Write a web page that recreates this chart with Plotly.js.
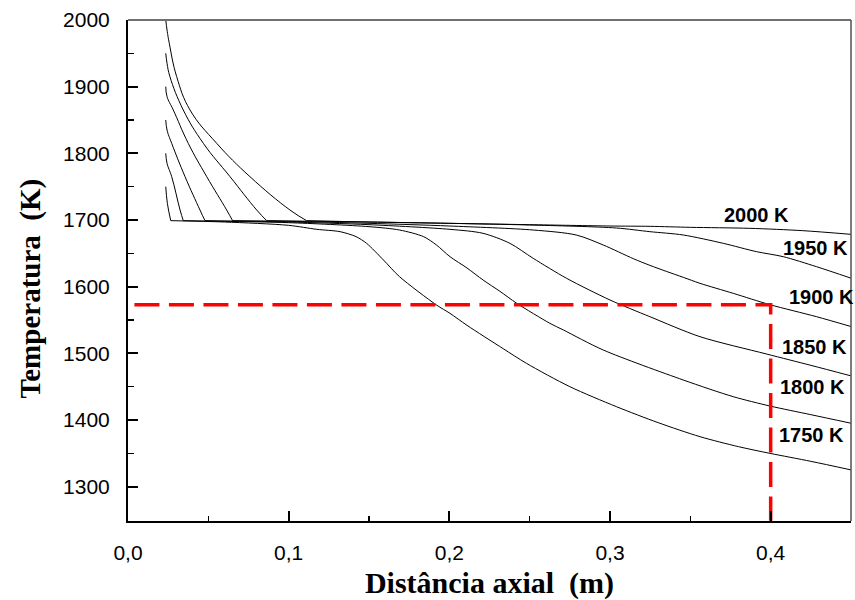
<!DOCTYPE html>
<html>
<head>
<meta charset="utf-8">
<script src="https://cdn.plot.ly/plotly-3.0.1.min.js"></script>
<style>html,body{margin:0;padding:0;background:#fff;}</style>
</head>
<body>
<div id="chart" style="width:855px;height:600px;"></div>
<script>
// Temperature profiles (K) along the axial distance (m), one per inlet temperature
const x2000 = [0.0235,0.0243,0.0257,0.0303,0.0386,0.0552,0.0759,0.1008,0.1112,0.15,0.2,0.25,0.3,0.325,0.35,0.387,0.42,0.45];
const y2000 = [2000,1985,1965,1915,1865,1815,1765,1715,1699,1697,1695,1693,1691,1690.5,1689,1687.5,1684,1678.5];

const x1950 = [0.0235,0.0243,0.0261,0.0344,0.0469,0.0635,0.0801,0.0863,0.15,0.2,0.25,0.304,0.3248,0.3456,0.3705,0.3912,0.4078,0.4285,0.4503];
const y1950 = [1950,1935,1915,1865,1815,1765,1715,1699,1697,1695,1692.5,1688,1682.5,1677.5,1665,1652.5,1645,1630,1612.5];

const x1900 = [0.0235,0.0243,0.0282,0.0375,0.049,0.0614,0.0651,0.1,0.15,0.2,0.2522,0.279,0.2958,0.3145,0.3248,0.335,0.3456,0.356,0.3767,0.3995,0.4285,0.4503];
const y1900 = [1900,1885,1865,1815,1765,1715,1699,1698,1695,1691,1685,1677.5,1662.5,1642,1632,1623,1614,1605,1590,1573,1555,1540];

const x1850 = [0.0235,0.0243,0.0272,0.0355,0.0448,0.0479,0.1,0.15,0.2004,0.221,0.2377,0.2522,0.273,0.3,0.3248,0.356,0.3974,0.425,0.4503];
const y1850 = [1850,1835,1815,1765,1715,1699,1697,1693,1686,1680,1665,1642.5,1612.5,1580,1555,1525,1499,1482,1466];

const x1800 = [0.0235,0.0243,0.0272,0.0324,0.0344,0.06,0.1,0.15,0.169,0.184,0.192,0.2004,0.211,0.221,0.2315,0.242,0.2626,0.271,0.2958,0.3456,0.3767,0.3995,0.425,0.4503];
const y1800 = [1800,1785,1765,1715,1699,1698,1696,1690,1685,1675,1662.5,1645,1628,1610,1593,1575,1545,1535,1505,1460,1435,1421,1408,1395];

const x1750 = [0.0235,0.0245,0.0266,0.06,0.1,0.1175,0.132,0.142,0.1485,0.159,0.169,0.192,0.2004,0.211,0.2335,0.248,0.275,0.304,0.33,0.356,0.38,0.3995,0.425,0.4503];
const y1750 = [1750,1725,1699,1697,1692,1686,1682.5,1675,1665,1640,1615,1572.5,1560,1542,1507,1485,1450,1420,1396,1375,1360,1350,1338,1325];

// Red reference line
const refX = [0.004, 0.4, 0.4];
const refY = [1573, 1573, 1249];

// Curve labels
const labelText = ["2000 K","1950 K","1900 K","1850 K","1800 K","1750 K"];
const labelX = [0.3909, 0.4282, 0.4319, 0.4270, 0.4263, 0.4257];
const labelY = [1707.5, 1658, 1584.5, 1509.5, 1449.5, 1377.5];

// Tick labels
const xTickVals = [0, 0.1, 0.2, 0.3, 0.4];
const xTickText = ["0,0", "0,1", "0,2", "0,3", "0,4"];
const yTickVals = [1300, 1400, 1500, 1600, 1700, 1800, 1900, 2000];
const yTickText = ["1300", "1400", "1500", "1600", "1700", "1800", "1900", "2000"];

const curves = [[x2000,y2000],[x1950,y1950],[x1900,y1900],[x1850,y1850],[x1800,y1800],[x1750,y1750]];
const traces = [];
curves.forEach((c, i) => {
  const xs = c[0], ys = c[1];
  // split at the sharp corner where the curve first reaches the ~1700 K plateau
  const k = ys.findIndex(v => v <= 1700);
  const common = {type: 'scatter', mode: 'lines', hoverinfo: 'skip', name: labelText[i]};
  traces.push(Object.assign({x: xs.slice(0, k + 1), y: ys.slice(0, k + 1),
    line: {color: '#000', width: 1, shape: 'spline', smoothing: 1.2}}, common));
  traces.push(Object.assign({x: xs.slice(k), y: ys.slice(k),
    line: {color: '#000', width: 1, shape: 'spline', smoothing: 0.8}}, common));
});
traces.push({
  x: refX, y: refY, type: 'scatter', mode: 'lines',
  line: {color: '#ff0000', width: 3.5, dash: '25px,9.5px'}, hoverinfo: 'skip'
});

const nb = '\u00a0';
const layout = {
  width: 855, height: 600,
  margin: {l: 128, r: 4, t: 20, b: 79},
  paper_bgcolor: '#fff', plot_bgcolor: '#fff',
  showlegend: false,
  font: {family: '"Liberation Sans", Arial, sans-serif', color: '#000'},
  xaxis: {
    range: [0, 0.45], showgrid: false, zeroline: false,
    showline: true, linecolor: '#000', linewidth: 2,
    ticks: 'inside', ticklen: 10, tickwidth: 2, tickcolor: '#000',
    tickvals: xTickVals, ticktext: xTickText,
    tickfont: {size: 21, family: '"Liberation Sans", Arial, sans-serif'},
    ticklabelstandoff: 12,
    minor: {ticks: 'inside', ticklen: 5, tickwidth: 1.5, tickcolor: '#000', dtick: 0.05, showgrid: false},
    title: {text: 'Distância axial' + nb + nb + '(m)', standoff: 16,
      font: {size: 30, family: '"Liberation Serif", "Times New Roman", serif', weight: 'bold'}}
  },
  yaxis: {
    range: [1248.5, 2000], showgrid: false, zeroline: false,
    showline: true, linecolor: '#000', linewidth: 2,
    ticks: 'inside', ticklen: 10, tickwidth: 2, tickcolor: '#000',
    tickvals: yTickVals, ticktext: yTickText,
    tickfont: {size: 21, family: '"Liberation Sans", Arial, sans-serif'},
    ticklabelstandoff: 12,
    minor: {ticks: 'inside', ticklen: 5.5, tickwidth: 1.5, tickcolor: '#000', dtick: 50, showgrid: false},
    title: {text: 'Temperatura' + nb + nb + '(K)' + nb + nb + nb + nb + nb + '\u200b', standoff: 14,
      font: {size: 29, family: '"Liberation Serif", "Times New Roman", serif', weight: 'bold'}}
  },
  shapes: [
    {type: 'line', xref: 'paper', yref: 'paper', x0: 0, x1: 1, y0: 1, y1: 1, line: {color: '#707070', width: 2}},
    {type: 'line', xref: 'paper', yref: 'paper', x0: 1, x1: 1, y0: 0, y1: 1, line: {color: '#505050', width: 1.5}}
  ],
  annotations: labelText.map((t, i) => ({
    x: labelX[i], y: labelY[i], xref: 'x', yref: 'y', text: t, showarrow: false,
    xanchor: 'center', yanchor: 'middle',
    font: {size: 20, family: '"Liberation Sans", Arial, sans-serif', weight: 'bold', color: '#000'}
  }))
};

Plotly.newPlot('chart', traces, layout, {staticPlot: true, displayModeBar: false});
</script>
</body>
</html>
